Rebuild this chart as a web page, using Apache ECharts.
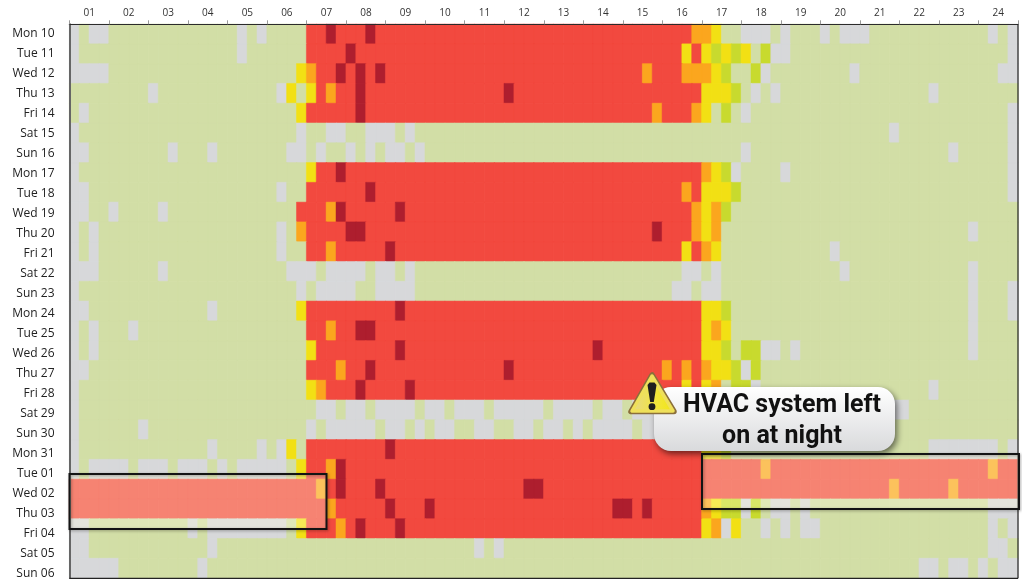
<!DOCTYPE html>
<html>
<head>
<meta charset="utf-8">
<title>HVAC heatmap</title>
<script src="https://cdn.jsdelivr.net/npm/echarts@6/dist/echarts.min.js"></script>
<style>
html, body { margin: 0; padding: 0; background: #fff; }
#main { width: 1022px; height: 579px; }
</style>
</head>
<body>
<div id="main"></div>
<script>
var hourLabels = ["01","02","03","04","05","06","07","08","09","10","11","12",
    "13","14","15","16","17","18","19","20","21","22","23","24"];

var dayLabels = ["Mon 10","Tue 11","Wed 12","Thu 13","Fri 14","Sat 15","Sun 16",
    "Mon 17","Tue 18","Wed 19","Thu 20","Fri 21","Sat 22","Sun 23",
    "Mon 24","Tue 25","Wed 26","Thu 27","Fri 28","Sat 29","Sun 30",
    "Mon 31","Tue 01","Wed 02","Thu 03","Fri 04","Sat 05","Sun 06"];

// load level per 15 minutes, one block per hour
// 0 no data, 1 off, 2 low, 3 medium, 4 high, 5 very high, 6 peak
var dayLevels = [
    "0100 1111 1111 1111 1010 1111 5565 5565 5555 5555 5555 5555 5555 5555 5555 5554 4311 0001 0111 0100 0111 1111 1111 1010",
    "0111 1111 1111 1111 1011 1111 5555 6555 5555 5555 5555 5555 5555 5555 5555 5535 3232 3120 0111 1111 1111 1111 1111 1110",
    "0000 1111 1111 1111 1111 1113 4556 5656 5555 5555 5555 5555 5555 5555 5545 5544 4321 1201 1111 1110 1111 1111 1111 1100",
    "1111 1111 0111 1111 1111 1031 3545 5655 5555 5555 5555 6555 5555 5555 5555 5555 3332 1010 1111 1111 1111 1110 1111 1111",
    "1011 1111 1111 1111 1111 1113 5555 5655 5555 5555 5555 5555 5555 5555 5554 5554 3121 0111 1111 1111 1111 1111 1111 1110",
    "0111 1111 1111 1111 1111 1110 1100 1100 0101 1111 1111 1111 1111 1111 1111 1111 1111 1111 1111 1111 1110 1111 1111 1110",
    "0011 1111 1101 1101 1111 1100 1011 0101 0010 1111 1111 1111 1111 1111 1111 1111 1111 0111 1111 1111 1111 1111 1011 1110",
    "0111 1111 1111 1111 1111 1111 3556 5555 5555 5555 5555 5555 5555 5555 5555 5555 4320 1111 0111 1111 1111 1111 1111 1110",
    "0011 1111 1111 1111 1111 1011 5555 5565 5555 5555 5555 5555 5555 5555 5555 5545 3332 1111 1111 1111 1111 1111 1111 1110",
    "0011 0111 1011 1111 1111 1115 5546 5555 5655 5555 5555 5555 5555 5555 5555 5554 3421 1111 1111 1111 1111 1111 1111 1111",
    "0101 1111 1111 1111 1111 1014 5555 6655 5555 5555 5555 5555 5555 5555 5556 5554 3411 1111 1111 1111 1111 1111 1110 1111",
    "0101 1111 1111 1111 1111 1011 5545 5555 6555 5555 5555 5555 5555 5555 5555 5535 4311 1111 1111 1011 1111 1111 1111 1111",
    "0001 1111 1011 1111 1111 1100 0100 0010 0101 1111 1111 1111 1111 1111 1111 1100 1011 1111 1111 1101 1111 1111 1110 1111",
    "0111 1111 1111 1111 1111 1110 1000 0110 0001 1111 1111 1111 1111 1111 1111 1001 0011 1111 1111 1111 1111 1111 1110 1110",
    "0011 1111 1111 1101 1111 1113 5555 5555 5655 5555 5555 5555 5555 5555 5555 5555 3321 1111 1111 1111 1111 1111 1110 1110",
    "0101 1101 1111 1111 1111 1111 5545 5665 5555 5555 5555 5555 5555 5555 5555 5555 3431 1111 1111 1111 1111 1111 1110 1111",
    "0101 1111 1111 1111 1111 1111 3555 5555 5655 5555 5555 5555 5555 5655 5555 5555 3321 2200 1011 1111 1111 1111 1110 1111",
    "0011 1111 1111 1111 1111 1111 5554 5565 5555 5555 5555 6555 5555 5555 5555 4545 4332 0211 1111 1111 1111 1111 1111 1111",
    "0111 1111 1111 1111 1111 1111 3455 5655 5565 5555 5555 5555 5555 5555 5555 5535 3412 2011 1111 1111 1111 1110 1111 1111",
    "0111 1111 1111 1111 1111 1111 1001 0010 0001 0010 0010 0000 1000 0100 1000 1000 0010 0100 0001 0010 0100 0111 1111 1111",
    "0111 1110 1111 1111 1111 1111 0100 0001 0010 1001 1001 1001 0010 1000 0100 0010 0100 0001 0010 0100 0011 1111 1111 1111",
    "0111 1111 1111 1101 1110 1031 5555 5555 6555 5555 5555 5555 5555 5555 5555 5555 3321 1111 1111 1111 1111 1110 0000 0010",
    "0100 0010 0010 0010 1000 0013 5546 5555 5555 5555 5555 5555 5555 5555 5555 5555 5555 5545 5555 5555 5555 5555 5555 5455",
    "5555 5555 5555 5555 5555 5555 5456 5556 5555 5555 5555 5566 5555 5555 5555 5555 5555 5555 5555 5555 5554 5555 5455 5555",
    "5555 5555 5555 5555 5555 5555 5545 5555 6555 6555 5555 5555 5555 5556 6565 5555 4322 0210 0101 1111 1111 1111 1111 1000",
    "0011 1111 1111 0100 0000 0013 5554 5655 5655 5555 5555 5555 5555 5555 5555 5555 3403 1101 0100 1111 1111 1111 1111 1010",
    "0011 1111 1111 1101 1111 1111 1111 1111 1111 1111 1010 1111 1111 1111 1111 1111 1111 1111 1111 1111 1111 1111 1111 1001",
    "0000 0111 1111 1011 1111 1111 1111 1111 1111 1111 1111 1111 1111 1111 1111 1111 1111 1111 1111 1111 1111 1100 1001 0100"
];

var levelColors = ["#d7d8da", "#d2dea6", "#c8da2e", "#f2e014", "#fba61e", "#f2493f", "#ae1e2e"];

var calloutLines = "HVAC system left\non at night";

var heat = { left: 69.5, top: 24.3, width: 948.5, height: 554, outerBoundsMode: "none" };
var quarterLabels = [];
var heatData = [];

function buildData() {
    for (var i = 0; i < 96; i++) {
        quarterLabels.push(String(i));
    }
    dayLevels.forEach(function(row, y) {
        row.replace(/ /g, "").split("").forEach(function(level, x) {
            var value = Number(level);
            // thin border of the cell's own colour closes the seams between cells
            heatData.push({
                value: [x, y, value],
                itemStyle: { borderColor: levelColors[value], borderWidth: 0.5 }
            });
        });
    });
}

function frameBox(x, y, w, h) {
    return [
        {
            type: "rect",
            shape: { x: x, y: y, width: w, height: h },
            style: { fill: "rgba(255,255,225,0.32)" },
            z: 100
        },
        {
            type: "rect",
            shape: { x: x, y: y, width: w, height: h },
            style: {
                fill: "none",
                stroke: "#141414",
                lineWidth: 2,
                shadowBlur: 3,
                shadowColor: "rgba(0,0,0,0.35)",
                shadowOffsetX: 1,
                shadowOffsetY: 1
            },
            z: 101
        }
    ];
}

function edgeLine(x1, y1, x2, y2) {
    return {
        type: "line",
        shape: { x1: x1, y1: y1, x2: x2, y2: y2 },
        style: { stroke: "#222", lineWidth: 1.2 },
        z: 90
    };
}

function getGraphics() {
    var right = heat.left + heat.width;
    var bottom = heat.top + heat.height;
    return [
        edgeLine(right, heat.top, right, bottom),
        edgeLine(heat.left, bottom, right, bottom)
    ].concat(frameBox(69.5, 474, 257, 55), frameBox(702, 454, 317, 55), [
        {
            type: "rect",
            shape: { x: 654, y: 387, width: 241, height: 64, r: 17 },
            style: {
                fill: new echarts.graphic.LinearGradient(0, 0, 0, 1, [
                    { offset: 0, color: "#ffffff" },
                    { offset: 1, color: "#d9dadc" }
                ]),
                shadowBlur: 6,
                shadowColor: "rgba(0,0,0,0.55)",
                shadowOffsetX: 2,
                shadowOffsetY: 3
            },
            z: 110
        },
        {
            type: "text",
            x: 782,
            y: 421.5,
            style: {
                text: calloutLines,
                fill: "#111",
                font: "bold 25px Roboto",
                align: "center",
                verticalAlign: "middle",
                lineHeight: 31
            },
            z: 111
        },
        {
            type: "polygon",
            shape: { points: [[652, 375], [631, 411.5], [674, 411.5]] },
            style: {
                fill: "#8b6f3a",
                stroke: "#8b6f3a",
                lineWidth: 5.5,
                lineJoin: "round"
            },
            z: 112
        },
        {
            type: "polygon",
            shape: { points: [[652, 376], [632, 411], [673, 411]] },
            style: {
                fill: new echarts.graphic.LinearGradient(0, 0, 1, 0, [
                    { offset: 0, color: "#e6d78c" },
                    { offset: 0.6, color: "#f2e63a" },
                    { offset: 1, color: "#f1e511" }
                ]),
                stroke: "#efe05a",
                lineWidth: 3.5,
                lineJoin: "round"
            },
            z: 113
        },
        {
            type: "polygon",
            shape: { points: [[647.5, 385], [649.5, 382.5], [654.5, 382.5], [656.5, 385], [653.8, 402], [650.2, 402]] },
            style: { fill: "#1f1f1f" },
            z: 114
        },
        {
            type: "circle",
            shape: { cx: 652, cy: 406.7, r: 3.4 },
            style: { fill: "#1f1f1f" },
            z: 114
        }
    ]);
}

function getOption() {
    var labelFont = '"Open Sans"';
    return {
        animation: false,
        backgroundColor: "#ffffff",
        grid: [
            heat,
            // the day names run on a slightly wider pitch than the rows
            { left: 69.5, top: 24, width: 948.5, height: 560, outerBoundsMode: "none" }
        ],
        xAxis: [
            {
                type: "category", gridIndex: 0, data: quarterLabels, position: "bottom",
                axisLine: { show: false }, axisTick: { show: false }, axisLabel: { show: false }, splitLine: { show: false }
            },
            {
                type: "category", gridIndex: 0, data: hourLabels, position: "top", z: 20,
                axisLine: { show: true, lineStyle: { color: "#2b2b2b", width: 1.2 } },
                axisTick: { show: true, length: 4, lineStyle: { color: "#9a9a9a", width: 1 } },
                axisLabel: { show: true, interval: 0, margin: 6, fontFamily: labelFont, fontSize: 10, color: "#333" },
                splitLine: { show: false }
            },
            {
                type: "category", gridIndex: 1, data: [""], show: false
            }
        ],
        yAxis: [
            {
                type: "category", gridIndex: 0, data: dayLabels, inverse: true, z: 20,
                axisLine: { show: true, lineStyle: { color: "#666", width: 2 } },
                axisTick: { show: false }, axisLabel: { show: false }, splitLine: { show: false }
            },
            {
                type: "category", gridIndex: 1, data: dayLabels, inverse: true,
                axisLine: { show: false }, axisTick: { show: false }, splitLine: { show: false },
                axisLabel: { show: true, interval: 0, margin: 15, fontFamily: labelFont, fontSize: 12, color: "#222" }
            }
        ],
        visualMap: {
            show: false,
            type: "piecewise",
            seriesIndex: 0,
            dimension: 2,
            pieces: levelColors.map(function(color, level) {
                return { value: level, color: color };
            })
        },
        series: [
            {
                type: "heatmap",
                xAxisIndex: 0,
                yAxisIndex: 0,
                data: heatData,
                progressive: 0,
                emphasis: { disabled: true }
            }
        ],
        graphic: { elements: getGraphics() }
    };
}

buildData();
var chart = echarts.init(document.getElementById("main"), null, { renderer: "canvas" });
chart.setOption(getOption());
</script>
</body>
</html>
